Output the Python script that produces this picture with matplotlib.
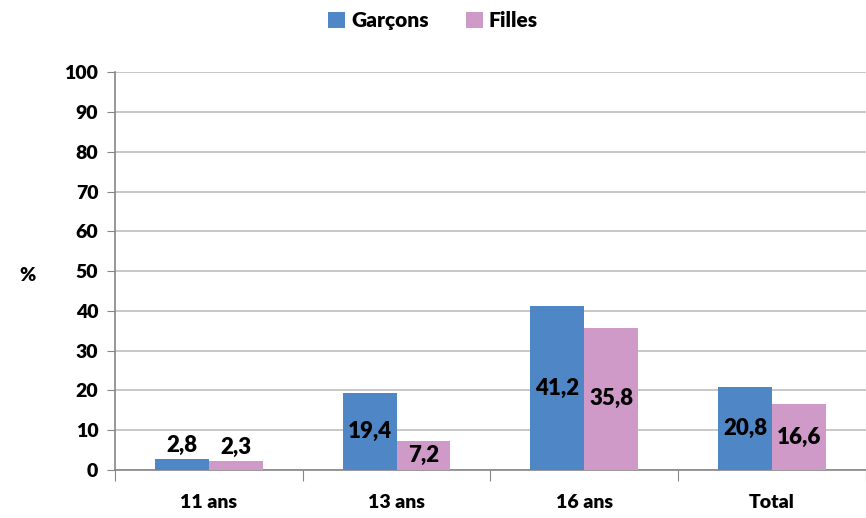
import numpy as np
import matplotlib.pyplot as plt
#
# data
#
categories=['11 ans','13 ans','16 ans','Total']
garcons=[2.8,19.4,41.2,20.8]
filles=[2.3,7.2,35.8,16.6]
series_names=['Garçons','Filles']
yticks=list(range(0,101,10))
#
# style
#
plt.rcParams['font.family']=['Lato','DejaVu Sans']
plt.rcParams['font.weight']='bold'
blue='#4F86C6'
pink='#D09AC8'
grid='#BFBFBF'

fig=plt.figure(figsize=(8.66,5.18),dpi=100)
ax=fig.add_axes([0.1328,0.0927,0.867,0.768])

x=np.arange(len(categories))
w=0.287
b1=ax.bar(x-w/2,garcons,w,color=blue,label=series_names[0],zorder=3)
b2=ax.bar(x+w/2,filles,w,color=pink,label=series_names[1],zorder=3)

def fmt(v):
  return ('%.1f'%v).replace('.',',')

for bars,vals in ((b1,garcons),(b2,filles)):
  for r,v in zip(bars,vals):
    cx=r.get_x()+r.get_width()/2
    if v<5:
      ax.text(cx,v+0.8,fmt(v),ha='center',va='bottom',fontsize=16,fontweight='heavy',zorder=4)
    else:
      ax.text(cx,v/2,fmt(v),ha='center',va='center',fontsize=16,fontweight='heavy',zorder=4)

ax.set_xlim(-0.5,len(categories)-0.5)
ax.set_ylim(0,100)
ax.set_yticks(yticks)
ax.set_yticklabels([str(t) for t in yticks],fontsize=14,fontweight='heavy')
ax.yaxis.grid(True,color=grid,linewidth=1.2,zorder=0)
ax.tick_params(axis='y',length=6,color='#868686',pad=6)

ax.set_xticks(np.arange(len(categories)+1)-0.5)
ax.set_xticklabels([])
ax.tick_params(axis='x',which='major',length=8,color='#868686',direction='out')
ax.set_xticks(x,minor=True)
ax.set_xticklabels(categories,minor=True,fontsize=14,fontweight='heavy')
ax.tick_params(axis='x',which='minor',length=0,pad=17)

for s in ['top','right']:
  ax.spines[s].set_visible(False)
for s in ['left','bottom']:
  ax.spines[s].set_color('#868686')
  ax.spines[s].set_linewidth(1.2)

fig.text(0.032,0.468,'%',fontsize=14,fontweight='heavy',ha='center',va='center')

fig.legend(loc='center',bbox_to_anchor=(0.5,0.96),ncol=2,frameon=False,
           prop={'size':15,'weight':'heavy'},
           handlelength=0.8,handleheight=0.8,handletextpad=0.3,columnspacing=1.8)

fig.savefig('out.png',dpi=100)
